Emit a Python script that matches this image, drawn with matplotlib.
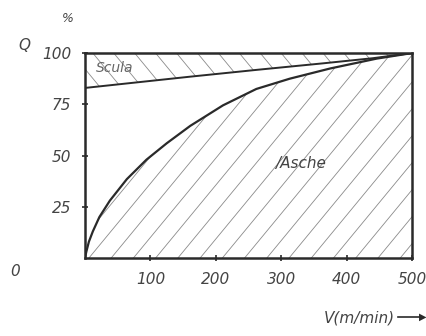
import numpy as np
import matplotlib.pyplot as plt

# Asche curve (lower) and Scula line (upper), Q in %
v_asche = [0, 2, 6, 12, 22, 38, 64, 94, 125, 161, 211, 262, 313, 375, 415, 446, 500]
q_asche = [0, 3, 8, 13, 20, 28, 38.5, 48, 56, 64.5, 74.5, 82.5, 87.5, 92.5, 95.2, 97.3, 100]
v_scula = [0, 161, 262, 364, 440, 500]
q_scula = [83, 88.5, 91.8, 95, 97.5, 100]

x_ticks = [100, 200, 300, 400, 500]
y_ticks = [25, 50, 75, 100]

ink = '#2a2a2a'
hatch_col = '#8a8a8a'

fig = plt.figure(figsize=(4.26, 3.36), dpi=100)
ax = fig.add_axes([0.1995, 0.232, 0.7676, 0.61])

low = ax.fill_between(v_asche, 0, q_asche, facecolor='none', linewidth=0)
top = ax.fill_between(v_scula, q_scula, 100, facecolor='none', linewidth=0)

# hand-style hatching, clipped to the two areas
for c in np.arange(-300, 520, 34):
    l1, = ax.plot([c, c + 300], [0, 116], color=hatch_col, lw=0.6)
    l1.set_clip_path(low.get_paths()[0], transform=ax.transData)
for c in np.arange(-20, 560, 32):
    l2, = ax.plot([c, c + 300], [100, -16], color=hatch_col, lw=0.6)
    l2.set_clip_path(top.get_paths()[0], transform=ax.transData)

ax.plot(v_asche, q_asche, color=ink, lw=1.6)
ax.plot(v_scula, q_scula, color=ink, lw=1.4)

ax.set_xlim(0, 500)
ax.set_ylim(0, 100)
for s in ax.spines.values():
    s.set_linewidth(1.8)
    s.set_color(ink)

font = dict(style='italic', color='#444444', fontsize=11)
ax.set_xticks(x_ticks)
ax.set_xticklabels([str(t) for t in x_ticks], **font)
ax.set_yticks(y_ticks)
ax.set_yticklabels([str(t) for t in y_ticks], **font)
ax.tick_params(direction='inout', length=4, width=1.2, color=ink, pad=8)

ax.text(45, 92.5, 'Scula', fontsize=10, style='italic', color='#666666',
        ha='center', va='center')
ax.text(330, 46, '/Asche', ha='center', va='center', **font)

fig.text(10 / 426, 1 - 272 / 336, '0', ha='left', va='center', **font)
fig.text(18 / 426, 1 - 45 / 336, 'Q', ha='left', va='center', **font)
fig.text(68 / 426, 1 - 18 / 336, '%', ha='center', va='center',
         style='italic', color='#444444', fontsize=9)
fig.text(395 / 426, 1 - 318 / 336, 'V(m/min)', ha='right', va='center', **font)
fig.add_artist(plt.Line2D([398 / 426, 420 / 426], [1 - 317 / 336, 1 - 317 / 336],
                          color=ink, lw=1.2))
fig.text(426 / 426, 1 - 317 / 336, '▶', ha='right', va='center',
         color=ink, fontsize=7)

fig.savefig('out.png', dpi=100)
